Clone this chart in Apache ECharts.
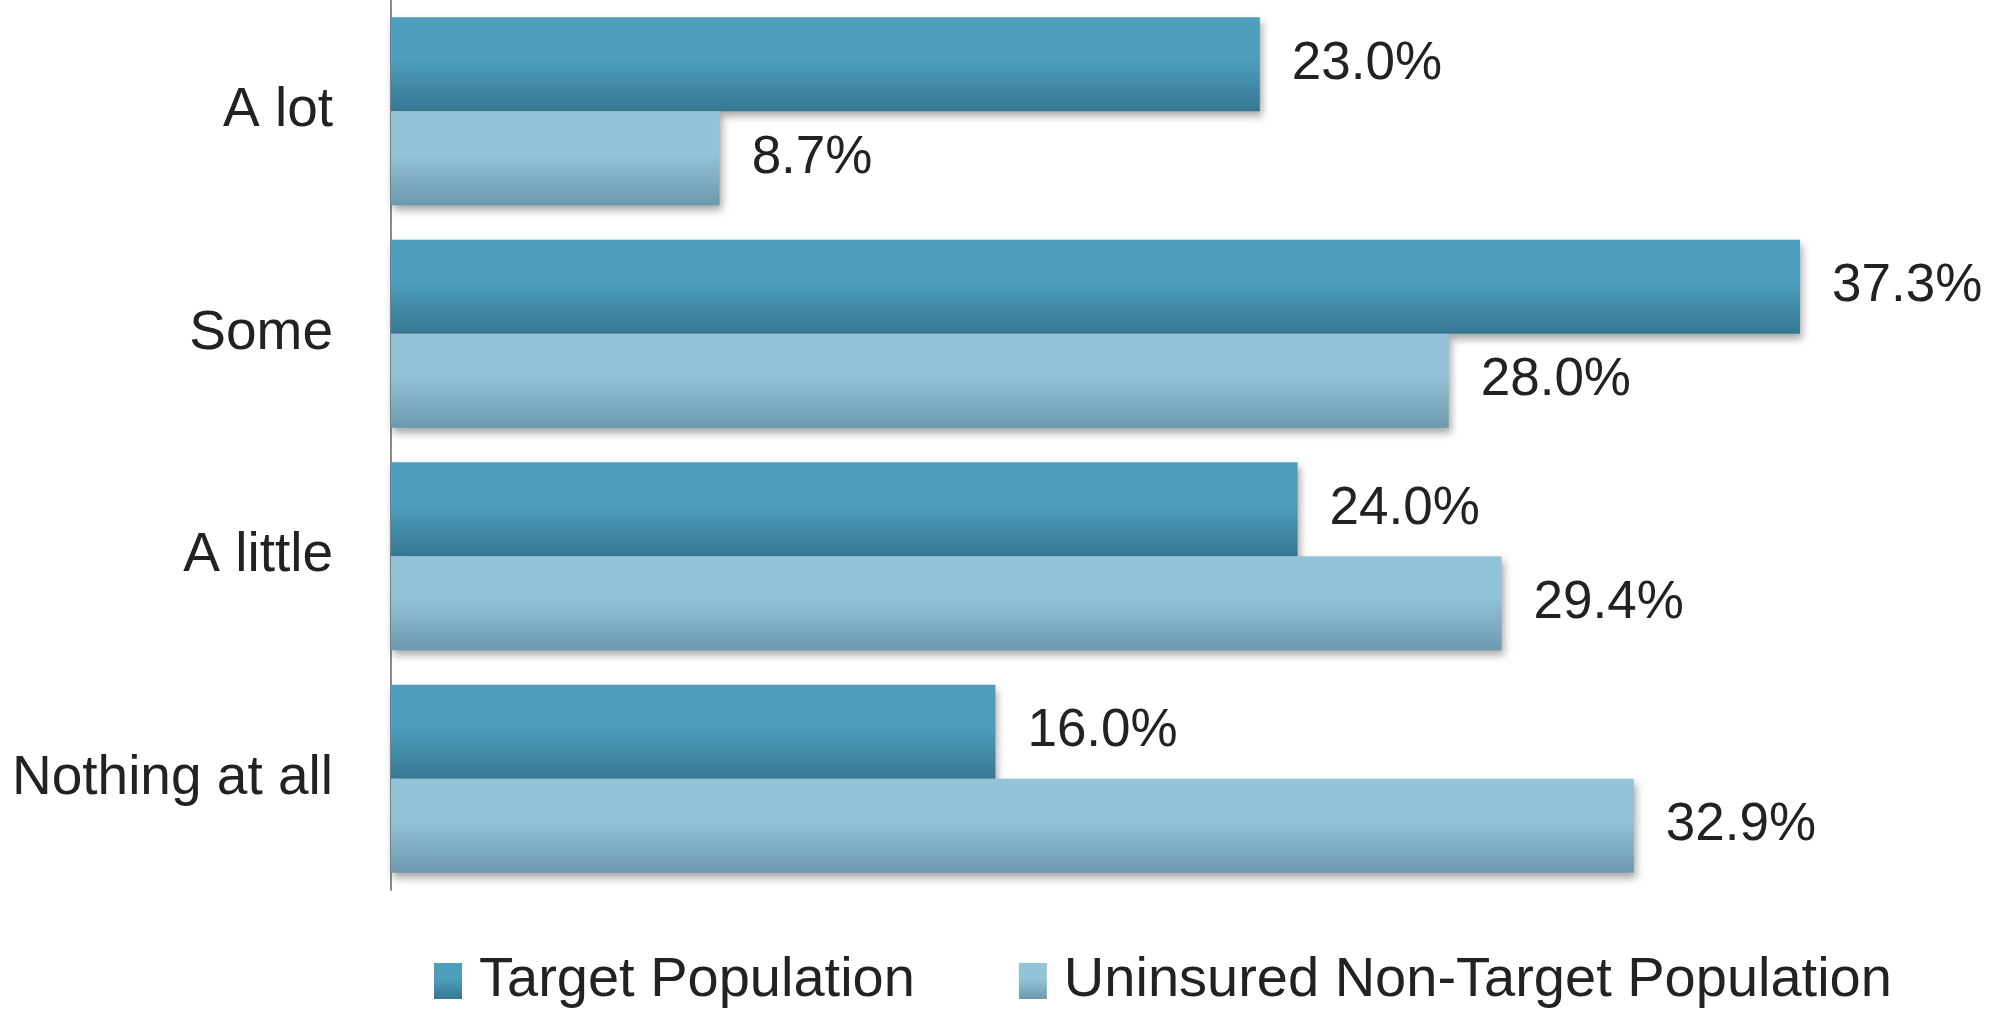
<!DOCTYPE html>
<html>
<head>
<meta charset="utf-8">
<script src="https://cdn.jsdelivr.net/npm/echarts@6/dist/echarts.min.js"></script>
<style>
  html, body { margin: 0; padding: 0; background: #fff; }
  #main { width: 1990px; height: 1018px; }
</style>
</head>
<body>
<div id="main"></div>
<script>
var categories = ['A lot', 'Some', 'A little', 'Nothing at all'];
var targetValues = [23.0, 37.3, 24.0, 16.0];
var uninsuredValues = [8.7, 28.0, 29.4, 32.9];
var seriesNames = ['Target Population', 'Uninsured Non-Target Population'];

var FONT = 'Liberation Sans';

function grad(top, bottom) {
  return new echarts.graphic.LinearGradient(0, 0, 0, 1, [
    { offset: 0, color: top },
    { offset: 0.45, color: top },
    { offset: 1, color: bottom }
  ]);
}

var labelOpt = {
  show: true,
  position: 'right',
  distance: 32,
  fontFamily: FONT,
  fontSize: 53,
  color: '#222',
  formatter: function (p) { return p.value.toFixed(1) + '%'; }
};

var chart = echarts.init(document.getElementById('main'));
chart.setOption({
  animation: false,
  grid: { left: 391, right: 88, top: 0, bottom: 128 },
  legend: {
    data: seriesNames,
    bottom: 4,
    left: 429,
    itemWidth: 28,
    itemHeight: 36,
    itemGap: 104,
    icon: 'rect',
    textStyle: { fontFamily: FONT, fontSize: 56, color: '#222', padding: [0, 0, 0, 12] }
  },
  xAxis: {
    type: 'value',
    min: 0,
    max: 40,
    show: false
  },
  yAxis: {
    type: 'category',
    data: categories,
    inverse: true,
    axisLine: { show: true, lineStyle: { color: '#8a8a8a', width: 2 } },
    axisTick: { show: false },
    axisLabel: { fontFamily: FONT, fontSize: 55, color: '#222', margin: 58 }
  },
  series: [
    {
      name: seriesNames[0],
      type: 'bar',
      data: targetValues,
      barGap: '0%',
      barCategoryGap: '15.5%',
      itemStyle: {
        color: grad('#4d9dbd', '#367892'),
        shadowColor: 'rgba(0,0,0,0.35)',
        shadowBlur: 8,
        shadowOffsetY: 5,
        shadowOffsetX: 2
      },
      label: labelOpt
    },
    {
      name: seriesNames[1],
      type: 'bar',
      data: uninsuredValues,
      barGap: '0%',
      barCategoryGap: '15.5%',
      itemStyle: {
        color: grad('#93c3d8', '#6c99ad'),
        shadowColor: 'rgba(0,0,0,0.35)',
        shadowBlur: 8,
        shadowOffsetY: 5,
        shadowOffsetX: 2
      },
      label: labelOpt
    }
  ]
});
</script>
</body>
</html>
